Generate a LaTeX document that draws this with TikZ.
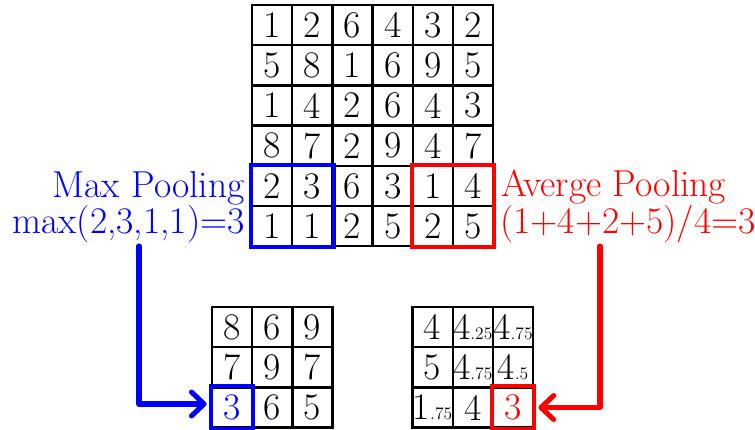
\documentclass[tikz,border=0pt]{standalone}
\usetikzlibrary{arrows.meta}
\newcommand\decpart[1]{{\fontsize{12.5}{14}\selectfont #1}}
\tikzset{
  cellbox/.style={draw=black, line width=1.6pt, minimum size=1.005cm, inner sep=0pt,
    font=\fontsize{26.7}{32}\selectfont},
  lbl/.style={inner sep=0pt, font=\fontsize{26.7}{32}\selectfont},
  bluebox/.style={draw=blue, line width=2.8pt},
  redbox/.style={draw=red, line width=2.8pt},
  poolarrow/.style={line width=3.6pt, line cap=round, line join=round,
    -{Straight Barb[length=9pt,width=17pt,line cap=round,round]}}
}
\begin{document}
\begin{tikzpicture}[x=0.025cm, y=-0.025cm]
\useasboundingbox (0,0) rectangle (755,429);
% top 6x6 grid
\foreach \r/\vals in {0/{1,2,6,4,3,2},1/{5,8,1,6,9,5},2/{1,4,2,6,4,3},3/{8,7,2,9,4,7},4/{2,3,6,3,1,4},5/{1,1,2,5,2,5}}{
  \foreach \v [count=\c from 0] in \vals {
    \node[cellbox] (t-\r-\c) at (252+20.1+\c*40.2, 5+20.1+\r*40.2) {\v};
  }
}
% max pooling result grid
\foreach \r/\vals in {0/{8,6,9},1/{7,9,7},2/{\textcolor{blue}{3},6,5}}{
  \foreach \v [count=\c from 0] in \vals {
    \node[cellbox] (ml-\r-\c) at (212+20.1+\c*40.2, 307+20.1+\r*40.2) {\v};
  }
}
% average pooling result grid
\foreach \r/\vals in {0/{4,4\decpart{.25},4\decpart{.75}},1/{5,4\decpart{.75},4\decpart{.5}},2/{1\decpart{.75},4,\textcolor{red}{3}}}{
  \foreach \v [count=\c from 0] in \vals {
    \node[cellbox] (av-\r-\c) at (412.5+20.1+\c*40.2, 307+20.1+\r*40.2) {\v};
  }
}
% highlight boxes
\draw[bluebox] (t-4-0.north west) rectangle (t-5-1.south east);
\draw[redbox] (t-4-4.north west) rectangle (t-5-5.south east);
\draw[bluebox] (ml-2-0.north west) rectangle (ml-2-0.south east);
\draw[redbox] (av-2-2.north west) rectangle (av-2-2.south east);
% labels
\node[lbl, text=blue, anchor=base east] (maxl1) at (245,197) {Max Pooling};
\node[lbl, text=blue, anchor=base east] (maxl2) at (245,233) {max(2,3,1,1)=3};
\node[lbl, text=red, anchor=base west] (avgl1) at (501,196) {Averge Pooling};
\node[lbl, text=red, anchor=base west] (avgl2) at (500,233) {(1+4+2+5)/4=3};
% arrows
\coordinate (maxstart) at (139,246);
\coordinate (avgstart) at (600,246);
\draw[poolarrow, blue, shorten >=3pt] (maxstart) |- ([yshift=2.5pt]ml-2-0.west);
\draw[poolarrow, red, shorten >=3pt] (avgstart) |- (av-2-2.east);
\end{tikzpicture}
\end{document}
